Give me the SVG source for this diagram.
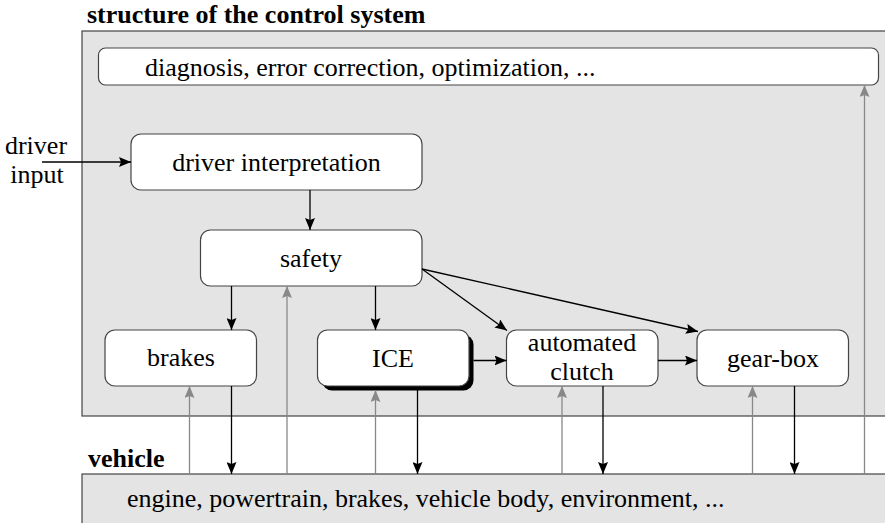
<svg xmlns="http://www.w3.org/2000/svg" width="885" height="523" viewBox="0 0 885 523">
<style>
text{font-family:"Liberation Serif","Times New Roman",serif;font-size:26px;fill:#000}
.t{font-weight:bold;font-size:26px}
.c{text-anchor:middle}
.node{fill:#fff;stroke:#444;stroke-width:1.2}
.area{fill:#e4e4e4;stroke:#444;stroke-width:1.2}
.blk{stroke:#000;stroke-width:1.3;fill:none}
.gry{stroke:#888;stroke-width:1.3;fill:none}
</style>
<defs>
<marker id="ab" viewBox="0 0 12 10" refX="12" refY="5" markerWidth="12" markerHeight="10" markerUnits="userSpaceOnUse" orient="auto">
<path d="M0,0 L12,5 L0,10 L2,5 Z" fill="#000"/>
</marker>
<marker id="ag" viewBox="0 0 12 10" refX="12" refY="5" markerWidth="12" markerHeight="10" markerUnits="userSpaceOnUse" orient="auto">
<path d="M0,0 L12,5 L0,10 L2,5 Z" fill="#888"/>
</marker>
</defs>
<g id="control-system">
<rect class="area" x="82" y="31" width="820" height="385"/>
<text class="t" x="87" y="23">structure of the control system</text>
</g>
<g id="vehicle">
<rect class="area" x="82" y="474" width="820" height="60"/>
<text class="t" x="88" y="467">vehicle</text>
<text x="127" y="507">engine, powertrain, brakes, vehicle body, environment, ...</text>
</g>
<g id="diagnosis">
<rect class="node" x="98.5" y="48" width="780" height="37" rx="7"/>
<text x="145" y="76">diagnosis, error correction, optimization, ...</text>
</g>
<g id="driver-input">
<text class="c" x="36" y="154">driver</text>
<text class="c" x="37" y="183">input</text>
</g>
<g id="driver-interpretation">
<rect class="node" x="131" y="134" width="291" height="56" rx="10"/>
<text class="c" x="276.5" y="171">driver interpretation</text>
</g>
<g id="safety">
<rect class="node" x="200.5" y="230" width="221.5" height="56" rx="10"/>
<text class="c" x="311" y="267">safety</text>
</g>
<g id="brakes">
<rect class="node" x="105" y="330" width="151.5" height="56" rx="10"/>
<text class="c" x="181" y="366">brakes</text>
</g>
<g id="ice">
<rect x="322" y="334.5" width="151.5" height="56" rx="10" fill="#000"/>
<rect class="node" x="317.5" y="330" width="151.5" height="56" rx="10"/>
<text class="c" x="393" y="367">ICE</text>
</g>
<g id="clutch">
<rect class="node" x="506.5" y="330" width="151.5" height="56" rx="10"/>
<text class="c" x="582" y="351">automated</text>
<text class="c" x="582" y="380">clutch</text>
</g>
<g id="gearbox">
<rect class="node" x="697" y="330" width="151.5" height="56" rx="10"/>
<text class="c" x="773" y="367">gear-box</text>
</g>
<g id="connectors">
<line class="blk" x1="42" y1="162" x2="131" y2="162" marker-end="url(#ab)"/>
<line class="blk" x1="310" y1="190" x2="310" y2="230" marker-end="url(#ab)"/>
<line class="blk" x1="231.5" y1="286" x2="231.5" y2="330" marker-end="url(#ab)"/>
<line class="blk" x1="375.5" y1="286" x2="375.5" y2="330" marker-end="url(#ab)"/>
<line class="blk" x1="422" y1="269" x2="507" y2="330.5" marker-end="url(#ab)"/>
<line class="blk" x1="422" y1="269" x2="698" y2="331.5" marker-end="url(#ab)"/>
<line class="blk" x1="473.5" y1="360.5" x2="506.5" y2="360.5" marker-end="url(#ab)"/>
<line class="blk" x1="658" y1="360.5" x2="697" y2="360.5" marker-end="url(#ab)"/>
<line class="blk" x1="231.5" y1="386" x2="231.5" y2="474" marker-end="url(#ab)"/>
<line class="blk" x1="417.5" y1="390" x2="417.5" y2="474" marker-end="url(#ab)"/>
<line class="blk" x1="603" y1="386" x2="603" y2="474" marker-end="url(#ab)"/>
<line class="blk" x1="794.5" y1="386" x2="794.5" y2="474" marker-end="url(#ab)"/>
<line class="gry" x1="189.5" y1="474" x2="189.5" y2="386" marker-end="url(#ag)"/>
<line class="gry" x1="287" y1="474" x2="287" y2="286" marker-end="url(#ag)"/>
<line class="gry" x1="375.5" y1="474" x2="375.5" y2="390" marker-end="url(#ag)"/>
<line class="gry" x1="562" y1="474" x2="562" y2="386" marker-end="url(#ag)"/>
<line class="gry" x1="752.5" y1="474" x2="752.5" y2="386" marker-end="url(#ag)"/>
<line class="gry" x1="864.5" y1="474" x2="864.5" y2="85" marker-end="url(#ag)"/>
</g>
</svg>
